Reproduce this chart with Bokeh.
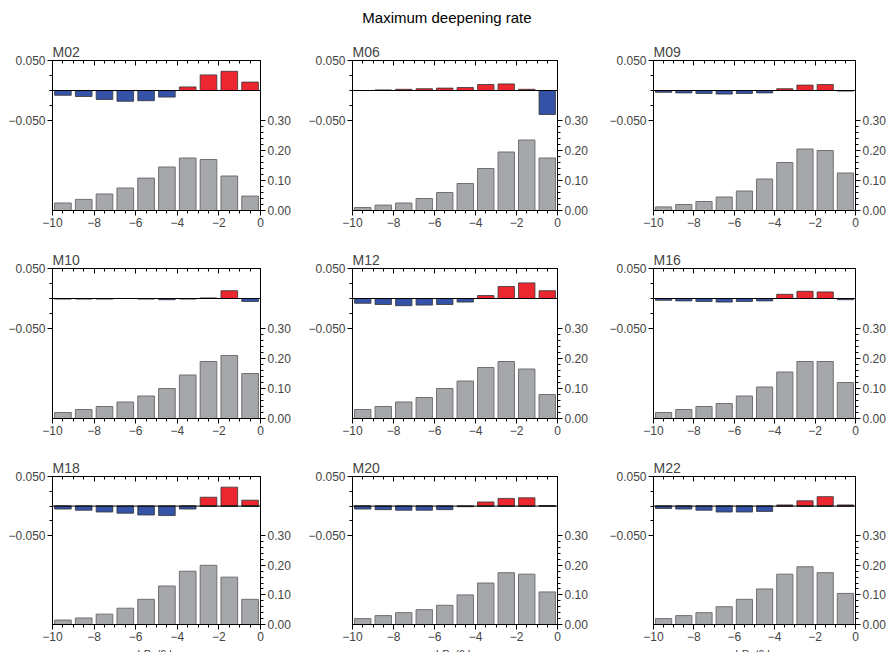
from bokeh.plotting import figure
from bokeh.models import Range1d, LinearAxis, FixedTicker, CustomJSTickFormatter, Span, Div
from bokeh.layouts import gridplot, column
from bokeh.embed import file_html
from bokeh.resources import INLINE

bins = [-9.5, -8.5, -7.5, -6.5, -5.5, -4.5, -3.5, -2.5, -1.5, -0.5]
names = ["M02", "M06", "M09", "M10", "M12", "M16", "M18", "M20", "M22"]
freq = {
    "M02": [0.025, 0.037, 0.055, 0.075, 0.108, 0.145, 0.175, 0.170, 0.115, 0.048],
    "M06": [0.010, 0.018, 0.025, 0.040, 0.060, 0.090, 0.140, 0.195, 0.235, 0.175],
    "M09": [0.012, 0.020, 0.030, 0.045, 0.065, 0.105, 0.160, 0.205, 0.200, 0.125],
    "M10": [0.020, 0.030, 0.040, 0.055, 0.075, 0.100, 0.145, 0.190, 0.210, 0.150],
    "M12": [0.030, 0.040, 0.055, 0.070, 0.100, 0.125, 0.170, 0.190, 0.165, 0.080],
    "M16": [0.020, 0.030, 0.040, 0.050, 0.075, 0.105, 0.155, 0.190, 0.190, 0.120],
    "M18": [0.015, 0.022, 0.035, 0.055, 0.085, 0.130, 0.180, 0.200, 0.160, 0.085],
    "M20": [0.020, 0.030, 0.040, 0.050, 0.065, 0.100, 0.140, 0.175, 0.170, 0.110],
    "M22": [0.020, 0.030, 0.040, 0.060, 0.085, 0.120, 0.170, 0.195, 0.175, 0.105],
}
diff = {
    "M02": [-0.008, -0.010, -0.015, -0.018, -0.017, -0.011, 0.006, 0.026, 0.032, 0.014],
    "M06": [0.000, 0.001, 0.002, 0.003, 0.004, 0.005, 0.010, 0.011, 0.002, -0.040],
    "M09": [-0.003, -0.004, -0.005, -0.006, -0.005, -0.004, 0.003, 0.009, 0.010, -0.001],
    "M10": [-0.001, -0.001, -0.001, 0.000, -0.001, -0.002, -0.001, 0.001, 0.013, -0.005],
    "M12": [-0.008, -0.010, -0.012, -0.011, -0.010, -0.006, 0.005, 0.020, 0.026, 0.013],
    "M16": [-0.003, -0.004, -0.005, -0.006, -0.005, -0.004, 0.007, 0.012, 0.011, -0.002],
    "M18": [-0.005, -0.007, -0.010, -0.012, -0.015, -0.016, -0.005, 0.015, 0.032, 0.010],
    "M20": [-0.005, -0.006, -0.007, -0.007, -0.006, -0.001, 0.007, 0.013, 0.014, 0.001],
    "M22": [-0.004, -0.005, -0.007, -0.010, -0.010, -0.009, 0.002, 0.009, 0.016, 0.002],
}

FONT = "Liberation Sans"
minus_fmt = lambda d: CustomJSTickFormatter(code=f"return tick.toFixed({d}).replace('-', '\u2212');")

col_borders = [(52, 45), (44, 48), (48, 27)]
row_borders = [(26, 30), (28, 30), (28, 36)]

figs = []
for i, name in enumerate(names):
    r, c = divmod(i, 3)
    bl, br = col_borders[c]
    bt, bb = row_borders[r]
    p = figure(width=208 + bl + br, height=150 + bt + bb, output_backend="svg",
               toolbar_location=None, x_range=Range1d(-10, 0), y_range=Range1d(-0.2, 0.05),
               min_border_left=bl, min_border_right=br, min_border_top=bt, min_border_bottom=bb,
               title=name)
    p.title.text_font = FONT
    p.title.text_font_size = "14px"
    p.title.text_font_style = "normal"
    p.title.offset = 0
    p.title.standoff = 2
    p.grid.visible = False
    p.outline_line_color = "black"
    p.background_fill_color = "white"
    p.extra_y_ranges = {"f": Range1d(0, 0.5)}

    p.vbar(x=bins, top=freq[name], width=0.8, y_range_name="f",
           fill_color="#a6a7aa", line_color="#6f7072", line_width=1)
    pos = [max(v, 0) for v in diff[name]]
    neg = [min(v, 0) for v in diff[name]]
    p.vbar(x=bins, bottom=0, top=pos, width=0.8, fill_color="#ec2730", line_color="#333333", line_width=0.8)
    p.vbar(x=bins, bottom=neg, top=0, width=0.8, fill_color="#3553a6", line_color="#333333", line_width=0.8)
    p.add_layout(Span(location=0, dimension="width", line_color="black", line_width=1))

    ya = p.yaxis[0]
    ya.ticker = FixedTicker(ticks=[-0.05, 0.05], minor_ticks=[-0.025, 0.0, 0.025])
    ya.formatter = minus_fmt(3)
    ya.axis_line_color = None

    xa = p.xaxis[0]
    xa.ticker = FixedTicker(ticks=[-10, -8, -6, -4, -2, 0],
                            minor_ticks=[x / 2 for x in range(-20, 1)])
    xa.formatter = minus_fmt(0)
    if r == 2:
        xa.axis_label = "hPa/6 h"
        xa.axis_label_text_font = FONT
        xa.axis_label_text_font_style = "normal"
        xa.axis_label_text_font_size = "11px"
        xa.axis_label_standoff = 4

    ra = LinearAxis(y_range_name="f",
                    ticker=FixedTicker(ticks=[0, 0.1, 0.2, 0.3],
                                       minor_ticks=[k / 50 for k in range(0, 16)]),
                    formatter=minus_fmt(2))
    ra.axis_line_color = None
    p.add_layout(ra, "right")

    ta = LinearAxis(ticker=FixedTicker(ticks=[-10, -8, -6, -4, -2, 0],
                                       minor_ticks=[x / 2 for x in range(-20, 1)]),
                    formatter=CustomJSTickFormatter(code="return '';"),
                    axis_line_color=None,
                    major_tick_in=5, major_tick_out=0, minor_tick_in=3, minor_tick_out=0)
    p.add_layout(ta, "above")

    for ax in (ya, xa, ra):
        ax.major_label_text_font = FONT
        ax.major_label_text_font_size = "12px"
        ax.major_tick_out = 5
        ax.major_tick_in = 0
        ax.minor_tick_out = 3
        ax.minor_tick_in = 0
        ax.major_label_standoff = 2
    figs.append(p)

grid = gridplot(figs, ncols=3, toolbar_location=None)
title = Div(text="Maximum deepening rate", width=884, height=24,
            styles={"text-align": "center", "font-family": FONT, "font-size": "15px",
                    "padding-top": "2px"})
page = column(title, grid)
open("out.html", "w").write(file_html(page, INLINE))
